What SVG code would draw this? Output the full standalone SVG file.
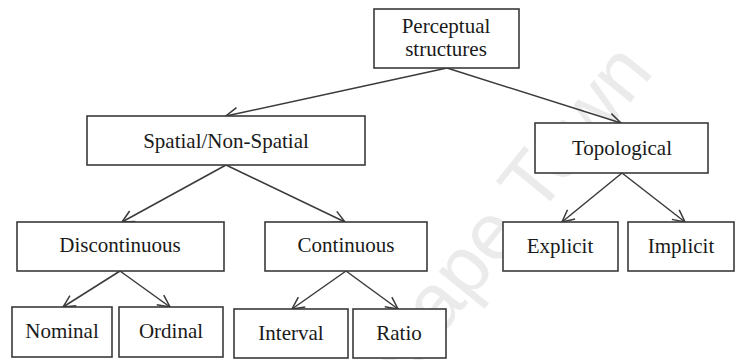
<svg xmlns="http://www.w3.org/2000/svg" width="735" height="360" viewBox="0 0 735 360">
  <style>
    .box { fill: #ffffff; stroke: #3a3a3a; stroke-width: 1.6; }
    .label { font-family: 'Liberation Serif', 'Times New Roman', Times, serif; font-size: 21px; fill: #1a1a1a; text-anchor: middle; }
    .edge { fill: none; stroke: #3a3a3a; stroke-width: 1.5; marker-end: url(#head); }
    .mark { font-family: 'Liberation Sans', Arial, sans-serif; font-size: 80px; fill: #ebebeb; }
  </style>
  <defs>
    <marker id="head" viewBox="0 0 14 14" refX="13" refY="7" markerWidth="14" markerHeight="14" markerUnits="userSpaceOnUse" orient="auto">
      <path d="M1,1 L13,7 L1,13" fill="none" stroke="#3a3a3a" stroke-width="1.5"/>
    </marker>
  </defs>

  <rect width="735" height="360" fill="#ffffff"/>
  <!-- faint diagonal watermark behind the chart -->
  <text class="mark" transform="translate(404,382) rotate(-51)">Cape Town</text>

  <g id="connectors">
    <line class="edge" x1="447" y1="68" x2="226" y2="116"/>
    <line class="edge" x1="447" y1="68" x2="621" y2="123"/>
    <line class="edge" x1="226" y1="165" x2="122" y2="222"/>
    <line class="edge" x1="226" y1="165" x2="345" y2="222"/>
    <line class="edge" x1="120" y1="271" x2="63" y2="307"/>
    <line class="edge" x1="120" y1="271" x2="170" y2="307"/>
    <line class="edge" x1="346" y1="271" x2="292" y2="309"/>
    <line class="edge" x1="346" y1="271" x2="398" y2="309"/>
    <line class="edge" x1="622" y1="173" x2="562" y2="222"/>
    <line class="edge" x1="622" y1="173" x2="685" y2="222"/>
  </g>

  <g id="perceptual">
    <rect class="box" x="374" y="9" width="145" height="59"/>
    <text class="label" x="446" y="33">Perceptual</text>
    <text class="label" x="446" y="56">structures</text>
  </g>
  <g id="spatial">
    <rect class="box" x="87" y="116" width="278" height="49"/>
    <text class="label" x="226" y="148">Spatial/Non-Spatial</text>
  </g>
  <g id="topological">
    <rect class="box" x="535" y="123" width="173" height="50"/>
    <text class="label" x="622" y="155">Topological</text>
  </g>
  <g id="discontinuous">
    <rect class="box" x="17" y="222" width="207" height="49"/>
    <text class="label" x="120" y="252">Discontinuous</text>
  </g>
  <g id="continuous">
    <rect class="box" x="265" y="222" width="162" height="49"/>
    <text class="label" x="346" y="252">Continuous</text>
  </g>
  <g id="explicit">
    <rect class="box" x="503" y="222" width="115" height="49"/>
    <text class="label" x="560" y="253">Explicit</text>
  </g>
  <g id="implicit">
    <rect class="box" x="628" y="222" width="106" height="49"/>
    <text class="label" x="681" y="253">Implicit</text>
  </g>
  <g id="nominal">
    <rect class="box" x="12" y="307" width="100" height="50"/>
    <text class="label" x="62" y="338">Nominal</text>
  </g>
  <g id="ordinal">
    <rect class="box" x="119" y="307" width="104" height="50"/>
    <text class="label" x="171" y="338">Ordinal</text>
  </g>
  <g id="interval">
    <rect class="box" x="234" y="309" width="114" height="49"/>
    <text class="label" x="291" y="340">Interval</text>
  </g>
  <g id="ratio">
    <rect class="box" x="353" y="309" width="93" height="49"/>
    <text class="label" x="399" y="340">Ratio</text>
  </g>
</svg>
